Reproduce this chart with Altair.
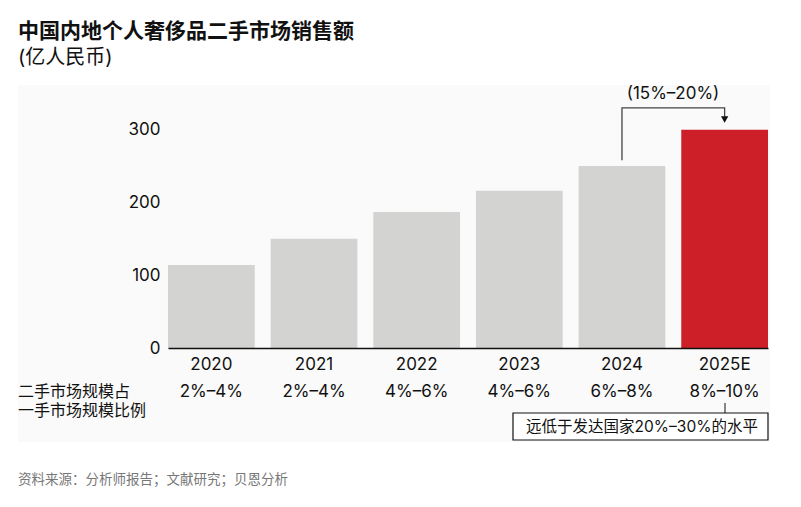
import altair as alt
import pandas as pd

years = ["2020", "2021", "2022", "2023", "2024", "2025E"]
sales = [114, 150, 187, 216, 250, 300]
shares = ["2%–4%", "2%–4%", "4%–6%", "4%–6%", "6%–8%", "8%–10%"]
highlight = [False, False, False, False, False, True]

title_text = "中国内地个人奢侈品二手市场销售额"
subtitle_text = "(亿人民币)"
row_label = ["二手市场规模占", "一手市场规模比例"]
growth_text = "(15%–20%)"
note_text = "远低于发达国家20%–30%的水平"
source_text = "资料来源：分析师报告；文献研究；贝恩分析"

bracket_x = ["2024", "2024", "2025E", "2025E"]
bracket_y = [258, 330, 330, 316]
arrow_x = ["2025E"]
arrow_y = [314]

FONT = "Inter, Noto Sans CJK SC, sans-serif"
GRAY = "#d3d3d2"
RED = "#cc1f28"

df = pd.DataFrame({"year": years, "sales": sales, "share": shares, "hl": highlight})
bdf = pd.DataFrame({"year": bracket_x, "v": bracket_y, "i": list(range(len(bracket_x)))})
adf = pd.DataFrame({"year": arrow_x, "v": arrow_y})
one = pd.DataFrame({"k": [0]})

xscale = alt.Scale(domain=years, paddingInner=0.155, paddingOuter=0)
yscale = alt.Scale(domain=[0, 360])

x_axis = alt.Axis(title=None, ticks=False, labelAngle=0, labelFontSize=17,
                  labelFont=FONT, labelColor="#111", labelPadding=8,
                  domainColor="#111", domainWidth=1.5, zindex=2)
y_axis = alt.Axis(title=None, values=[0, 100, 200, 300], domain=False, ticks=False,
                  grid=False, labelFontSize=17, labelFont=FONT, labelColor="#111",
                  labelPadding=8, zindex=2)

def X(field="year:N"):
    return alt.X(field, scale=xscale, sort=years, axis=x_axis)

def Y(field):
    return alt.Y(field, scale=yscale, axis=y_axis)

bg = alt.Chart(one).mark_rect(color="#fafafa").encode(
    x=alt.value(-150), x2=alt.value(602), y=alt.value(-1), y2=alt.value(356)
)

bars = alt.Chart(df).mark_bar().encode(
    x=X(),
    y=Y("sales:Q"),
    color=alt.Color("hl:N", scale=alt.Scale(domain=[False, True], range=[GRAY, RED]), legend=None),
)

share_txt = alt.Chart(df).mark_text(fontSize=17, font=FONT, color="#111", baseline="middle").encode(
    x=X(), y=alt.value(306), text="share:N"
)

bracket = alt.Chart(bdf).mark_line(color="#444", strokeWidth=1.3).encode(
    x=X(), y=Y("v:Q"), order="i:Q",
)

arrow = alt.Chart(adf).mark_point(shape="triangle-down", filled=True, color="#111", size=55, opacity=1).encode(
    x=X(), y=Y("v:Q"),
)

def label(text, x, y, size, weight="normal", color="#111", align="left"):
    return alt.Chart(pd.DataFrame({"t": [text]})).mark_text(
        fontSize=size, font=FONT, fontWeight=weight, color=color, align=align, baseline="middle"
    ).encode(x=alt.value(x), y=alt.value(y), text="t:N")

title = label(title_text, -150, -54, 21, weight="bold")
subtitle = label(subtitle_text, -150, -28, 20)
row1 = label(row_label[0], -150, 306, 16)
row2 = label(row_label[1], -150, 325, 16)
growth = label(growth_text, 505, 8, 17, align="center")
source = label(source_text, -150, 394, 13.5, color="#777")

box = alt.Chart(one).mark_rect(fill="white", stroke="#111", strokeWidth=1.2).encode(
    x=alt.value(345), x2=alt.value(600), y=alt.value(327), y2=alt.value(354)
)
connector = alt.Chart(one).mark_rule(color="#111", strokeWidth=1).encode(
    x=alt.value(557), y=alt.value(317), y2=alt.value(327)
)
note = label(note_text, 474, 341, 15.5, align="center")

chart = alt.layer(
    bg, bars, share_txt, bracket, arrow, title, subtitle, row1, row2, growth, source, box, connector, note
).properties(
    width=600, height=262,
    autosize=alt.AutoSizeParams(type="none"),
    padding={"left": 160, "top": 78, "right": 25, "bottom": 151},
).configure_view(stroke=None).configure(background="white")

chart.save("out.html", embed_options={"renderer": "svg", "actions": False})
